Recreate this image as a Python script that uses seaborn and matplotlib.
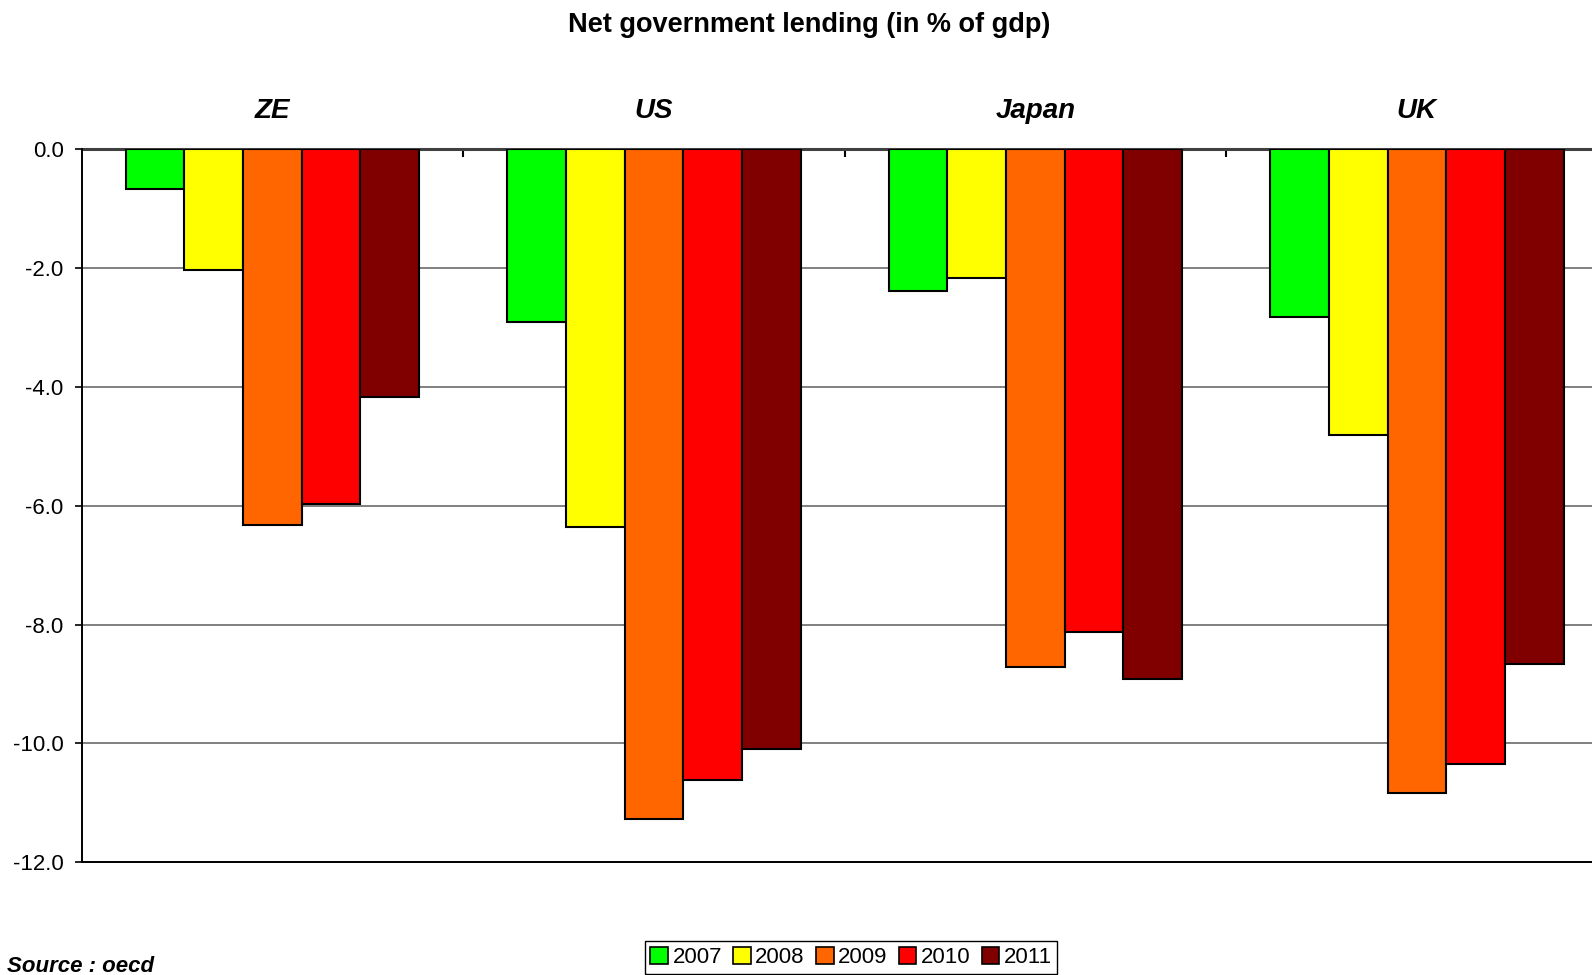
import matplotlib
matplotlib.use("Agg")
import matplotlib.pyplot as plt
import seaborn as sns
import pandas as pd
from matplotlib.patches import Patch

# Net government lending, % of GDP
countries = ["ZE", "US", "Japan", "UK"]
years = ["2007", "2008", "2009", "2010", "2011"]
lending_2007 = [-0.67, -2.91, -2.39, -2.82]
lending_2008 = [-2.03, -6.36, -2.16, -4.81]
lending_2009 = [-6.33, -11.27, -8.71, -10.84]
lending_2010 = [-5.97, -10.62, -8.13, -10.34]
lending_2011 = [-4.17, -10.09, -8.91, -8.67]
year_colors = ["#00FF00", "#FFFF00", "#FF6600", "#FF0000", "#800000"]
y_ticks = [0.0, -2.0, -4.0, -6.0, -8.0, -10.0, -12.0]

series = [lending_2007, lending_2008, lending_2009, lending_2010, lending_2011]
rows = []
for yr, vals in zip(years, series):
    for c, v in zip(countries, vals):
        rows.append({"country": c, "year": yr, "value": v})
df = pd.DataFrame(rows)

sns.set_style("white")
plt.rcParams["font.family"] = ["Liberation Sans", "DejaVu Sans"]
plt.rcParams["text.color"] = "black"
plt.rcParams["xtick.color"] = "black"
plt.rcParams["ytick.color"] = "black"
plt.rcParams["axes.labelcolor"] = "black"

fig = plt.figure(figsize=(15.92, 9.75), dpi=100)
ax = fig.add_axes([0.0513, 0.1156, 0.9585, 0.7313])

sns.barplot(data=df, x="country", y="value", hue="year", order=countries,
            hue_order=years, palette=year_colors, saturation=1,
            width=0.769, edgecolor="black", linewidth=1.5,
            errorbar=None, legend=False, ax=ax, zorder=3)

ax.set_ylim(-12, 0)
ax.set_xlim(-0.5, 3.5)
ax.set_yticks(y_ticks)
ax.set_yticklabels([f"{t:.1f}" for t in y_ticks], fontsize=16, color="black")
ax.tick_params(axis="y", direction="out", length=5, width=1.2, color="black",
               pad=8, left=True)

ax.yaxis.grid(True, color="#808080", linewidth=1.4, zorder=0)
ax.xaxis.grid(False)
ax.set_axisbelow(True)

# Category names sit above the zero line
ax.xaxis.tick_top()
ax.set_xticks(range(len(countries)))
ax.set_xticklabels(countries, fontsize=20, fontweight="bold", fontstyle="italic",
                   color="black")
ax.tick_params(axis="x", which="major", length=0, pad=18)
ax.set_xticks([0.5, 1.5, 2.5, 3.5], minor=True)
ax.tick_params(axis="x", which="minor", direction="in", length=5.8, width=1.5,
               color="black", top=True, bottom=False)
ax.set_xlabel("")
ax.set_ylabel("")

for name, sp in ax.spines.items():
    sp.set_visible(True)
ax.spines["right"].set_visible(False)
ax.spines["top"].set_color("#404040")
ax.spines["top"].set_linewidth(2.2)
ax.spines["top"].set_zorder(2)
ax.spines["left"].set_color("black")
ax.spines["left"].set_linewidth(1.4)
ax.spines["bottom"].set_color("black")
ax.spines["bottom"].set_linewidth(1.4)

fig.text(0.508, 1 - 25.5 / 975, "Net government lending (in % of gdp)",
         ha="center", va="center", fontsize=19.5, fontweight="bold", color="black")

handles = [Patch(facecolor=c, edgecolor="black", linewidth=1.2) for c in year_colors]
leg = fig.legend(handles, years, loc="center", bbox_to_anchor=(0.5346, 0.0180),
                 ncol=5, fontsize=16, frameon=True, fancybox=False,
                 handlelength=0.8, handleheight=0.8, handletextpad=0.2,
                 columnspacing=0.5, borderpad=0.25, borderaxespad=0)
leg.get_frame().set_edgecolor("black")
leg.get_frame().set_linewidth(1.0)
leg.get_frame().set_alpha(1)
for t in leg.get_texts():
    t.set_color("black")

fig.text(0.0045, 0.0085, "Source : oecd", ha="left", va="center",
         fontsize=16, fontweight="bold", fontstyle="italic", color="black")

fig.savefig("out.png", dpi=100)
